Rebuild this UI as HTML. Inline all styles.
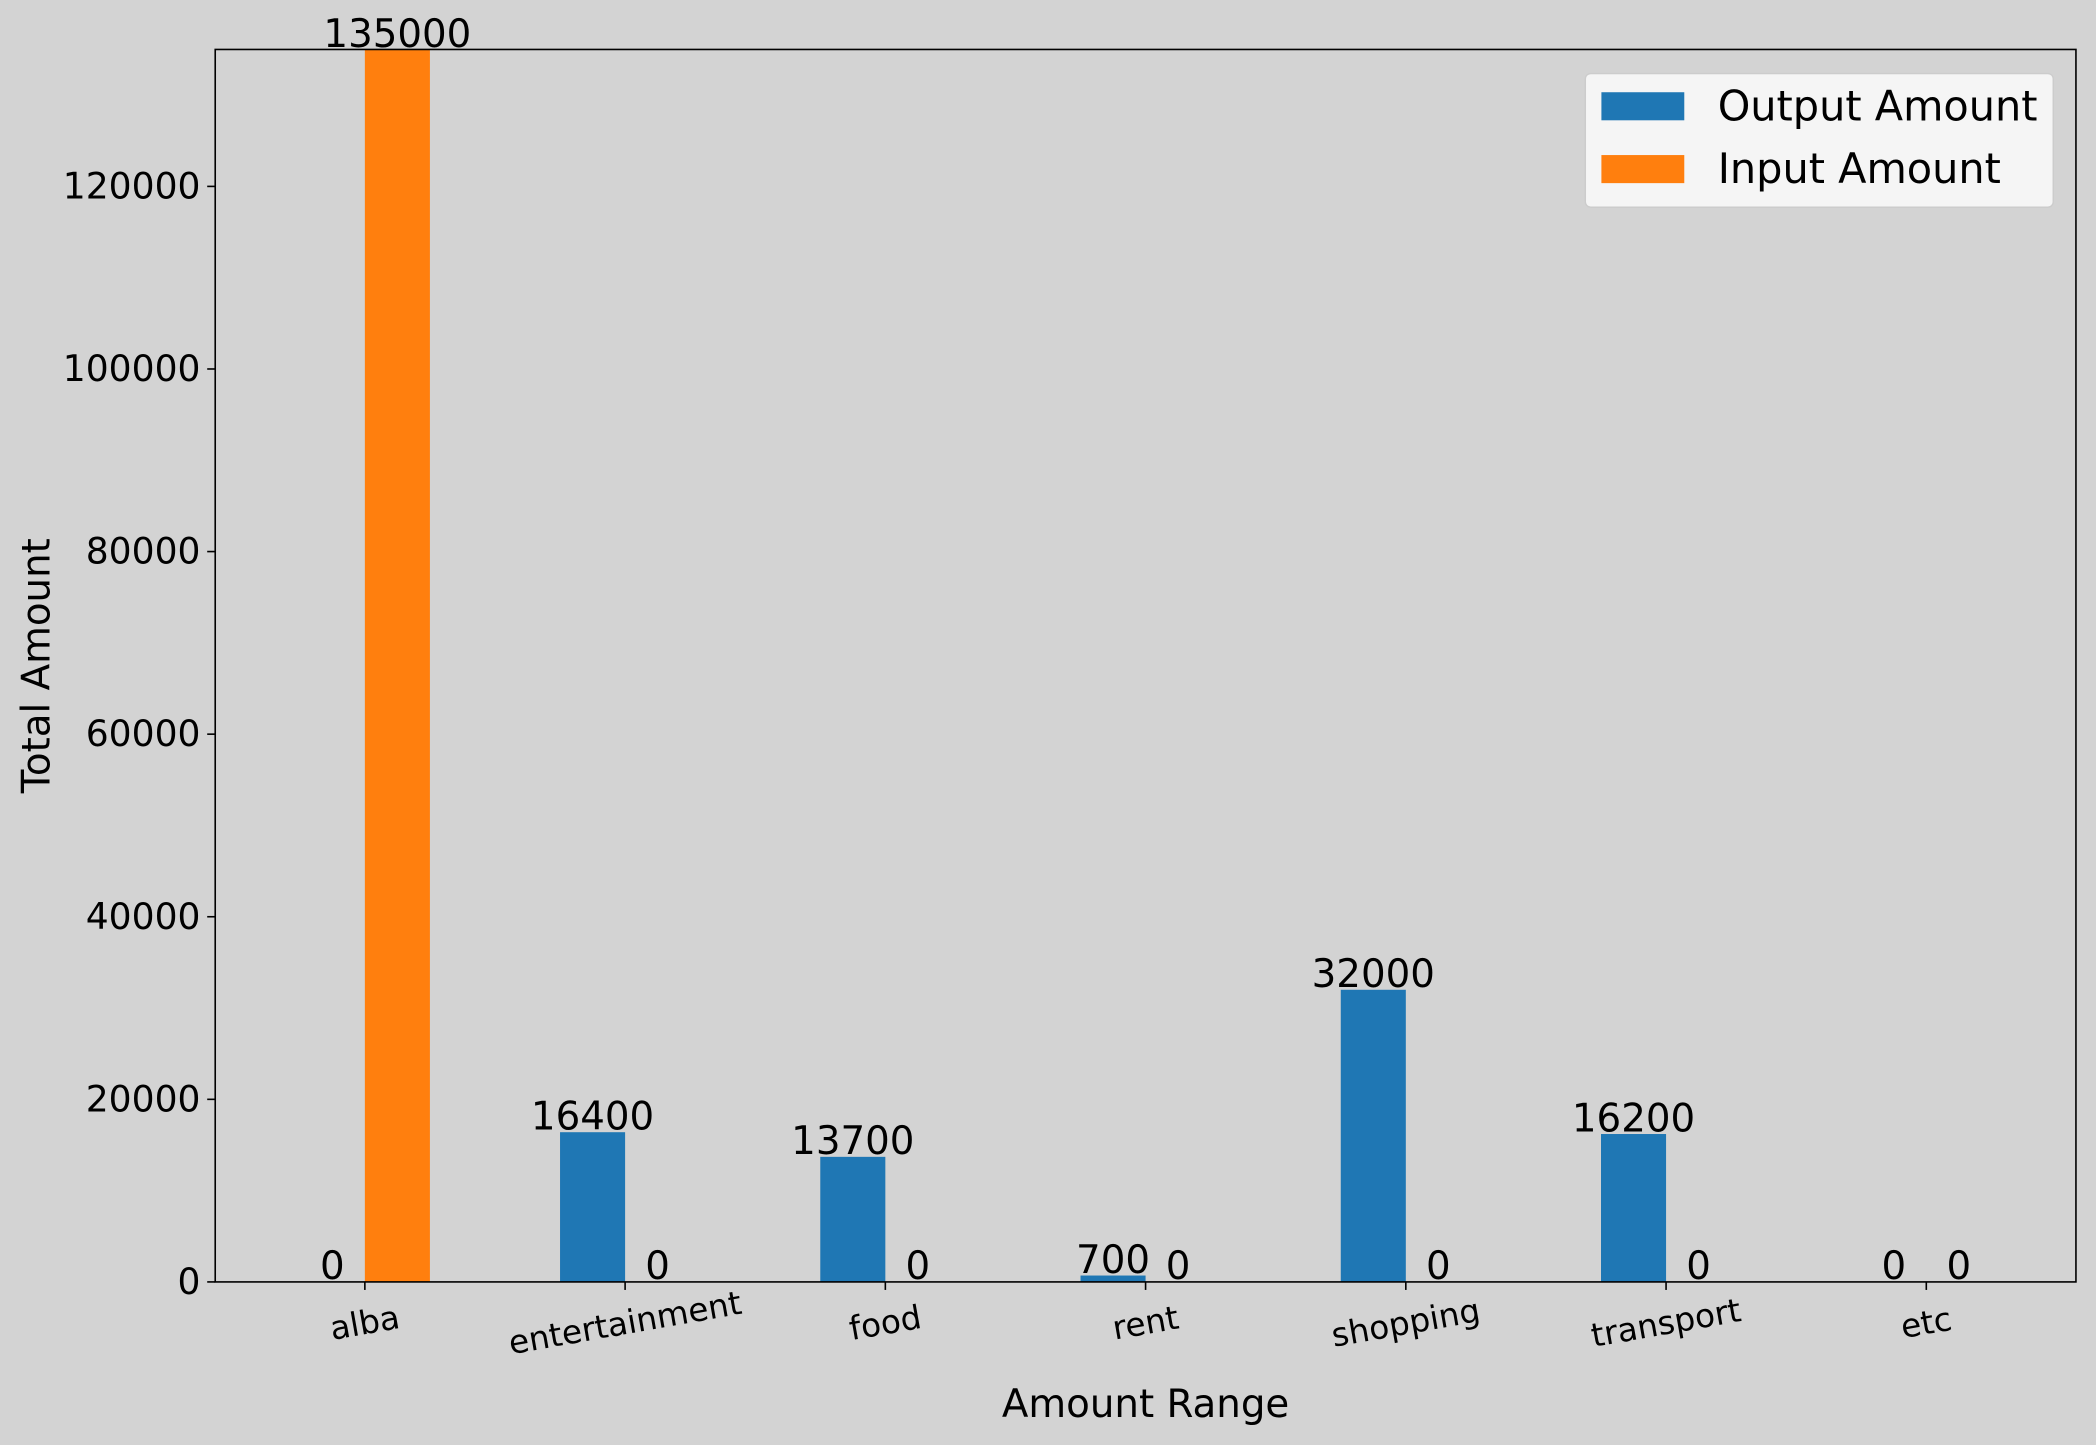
<!DOCTYPE html>
<html><head><meta charset="utf-8"><style>html,body{margin:0;padding:0;background:#d3d3d3}svg{display:block}text{font-family:"DejaVu Sans","Liberation Sans",sans-serif}</style></head>
<body>
<svg id="chart" width="2096" height="1445" viewBox="0 0 1568 1081" xmlns="http://www.w3.org/2000/svg">
<rect x="0" y="0" width="1568" height="1081" fill="#d3d3d3"/>
<g id="bars"></g>
<g id="axes"></g>
<text x="857" y="1060" font-size="29" text-anchor="middle">Amount Range</text>
<text x="37" y="498" font-size="29" text-anchor="middle" transform="rotate(-90 37 498)">Total Amount</text>
<g>
<rect x="1186" y="55" width="350" height="100" rx="4" fill="#f5f5f5" stroke="#cccccc"/>
<rect x="1198" y="69" width="62" height="21" fill="#1f77b4"/>
<text x="1285" y="90" font-size="31">Output Amount</text>
<rect x="1198" y="116" width="62" height="21" fill="#ff7f0e"/>
<text x="1285" y="137" font-size="31">Input Amount</text>
</g>
</svg>
<script>
const categories = ["alba","entertainment","food","rent","shopping","transport","etc"];
const outputValues = [0,16400,13700,700,32000,16200,0];
const inputValues = [135000,0,0,0,0,0,0];
const yTicks = [0,20000,40000,60000,80000,100000,120000];

const L=161,R=1553,T=37,B=959;
const xMin=-0.575,xMax=categories.length-1+0.575;
const yMax=Math.max(...outputValues,...inputValues);
const xs=i=>L+(i-xMin)/(xMax-xMin)*(R-L);
const ys=v=>B-v/yMax*(B-T);
const bw=0.25*(R-L)/(xMax-xMin);
const NS="http://www.w3.org/2000/svg";
const bars=document.getElementById('bars'),axes=document.getElementById('axes');
function mk(tag,attrs,parent,txt){const e=document.createElementNS(NS,tag);for(const k in attrs)e.setAttribute(k,attrs[k]);if(txt!==undefined)e.textContent=txt;parent.appendChild(e);return e;}
categories.forEach((c,i)=>{
  [[outputValues,-1,'#1f77b4','output'],[inputValues,0,'#ff7f0e','input']].forEach(([arr,off,col,nm])=>{
    const v=arr[i],x0=xs(i)+off*bw;
    const r=mk('rect',{x:x0,y:ys(v),width:bw,height:B-ys(v),fill:col},bars);
    
    
    const t=mk('text',{x:x0+bw/2,y:ys(v)-2,'font-size':29,'text-anchor':'middle'},bars,String(v));
    
    
  });
  const tk=mk('line',{x1:xs(i),x2:xs(i),y1:B,y2:B+6,stroke:'#000','stroke-width':1.2},axes);
  
  
  const cy=990;
  const lb=mk('text',{x:xs(i),y:cy+8,'font-size':24.5,'text-anchor':'middle',transform:`rotate(-10 ${xs(i)} ${cy})`},axes,c);
  
  
});
yTicks.forEach(v=>{
  const tk=mk('line',{x1:L-6,x2:L,y1:ys(v),y2:ys(v),stroke:'#000','stroke-width':1.2},axes);
  
  
  const lb=mk('text',{x:L-11,y:ys(v)+9,'font-size':27,'text-anchor':'end'},axes,String(v));
  
  
});
const fr=mk('rect',{x:L,y:T,width:R-L,height:B-T,fill:'none',stroke:'#000','stroke-width':1.2},axes);


</script>
</body></html>
